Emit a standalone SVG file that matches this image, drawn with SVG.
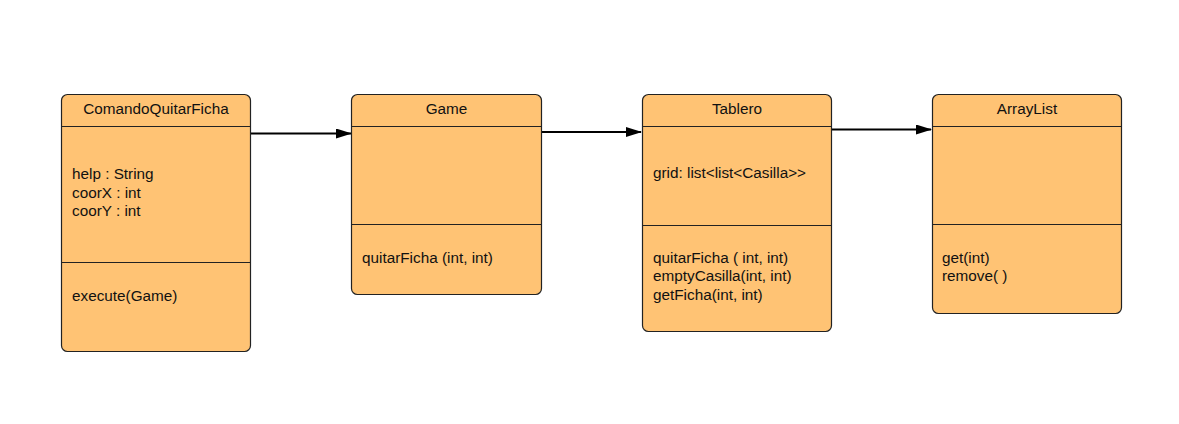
<svg xmlns="http://www.w3.org/2000/svg" width="1179" height="424" viewBox="0 0 1179 424">
<style>
.box{fill:#ffc374;stroke:#222;stroke-width:1.2}
.div{stroke:#222;stroke-width:1.2}
text{font-family:"Liberation Sans",Arial,sans-serif;font-size:15.3px;fill:#111}
.t{text-anchor:middle}
.c{stroke:#000;stroke-width:2;fill:none}
</style>
<defs>
<marker id="ah" markerWidth="16" markerHeight="10" refX="15" refY="5" orient="auto" markerUnits="userSpaceOnUse">
<path d="M0,0 L16,5 L0,10 Z" fill="#000"/>
</marker>
</defs>
<rect width="1179" height="424" fill="#fff"/>
<g id="connectors">
<line class="c" x1="251" y1="133.5" x2="351" y2="133.5" marker-end="url(#ah)"/>
<line class="c" x1="542" y1="132" x2="641" y2="132" marker-end="url(#ah)"/>
<line class="c" x1="832" y1="129.5" x2="931" y2="129.5" marker-end="url(#ah)"/>
</g>
<g id="ComandoQuitarFicha">
<rect class="box" x="61.5" y="94.5" width="189" height="257" rx="6"/>
<line class="div" x1="61.5" y1="126.5" x2="250.5" y2="126.5"/>
<line class="div" x1="61.5" y1="262.5" x2="250.5" y2="262.5"/>
<text class="t" x="156" y="113.5">ComandoQuitarFicha</text>
<text x="72" y="179">help : String</text>
<text x="72" y="197.5">coorX : int</text>
<text x="72" y="216">coorY : int</text>
<text x="72" y="301">execute(Game)</text>
</g>
<g id="Game">
<rect class="box" x="351.5" y="94.5" width="190" height="200" rx="6"/>
<line class="div" x1="351.5" y1="224.5" x2="541.5" y2="224.5"/>
<line class="div" x1="351.5" y1="126.5" x2="541.5" y2="126.5"/>
<text class="t" x="446.5" y="113.5">Game</text>
<text x="362" y="262.5">quitarFicha (int, int)</text>
</g>
<g id="Tablero">
<rect class="box" x="642.5" y="94.5" width="189" height="237" rx="6"/>
<line class="div" x1="642.5" y1="126.5" x2="831.5" y2="126.5"/>
<line class="div" x1="642.5" y1="225.5" x2="831.5" y2="225.5"/>
<text class="t" x="737" y="113.5">Tablero</text>
<text x="653" y="177.5">grid: list&lt;list&lt;Casilla&gt;&gt;</text>
<text x="653" y="262.5">quitarFicha ( int, int)</text>
<text x="653" y="281">emptyCasilla(int, int)</text>
<text x="653" y="300">getFicha(int, int)</text>
</g>
<g id="ArrayList">
<rect class="box" x="932.5" y="94.5" width="189" height="219" rx="6"/>
<line class="div" x1="932.5" y1="126.5" x2="1121.5" y2="126.5"/>
<line class="div" x1="932.5" y1="224.5" x2="1121.5" y2="224.5"/>
<text class="t" x="1027" y="113.5">ArrayList</text>
<text x="942" y="262.5">get(int)</text>
<text x="942" y="281">remove( )</text>
</g>
</svg>
